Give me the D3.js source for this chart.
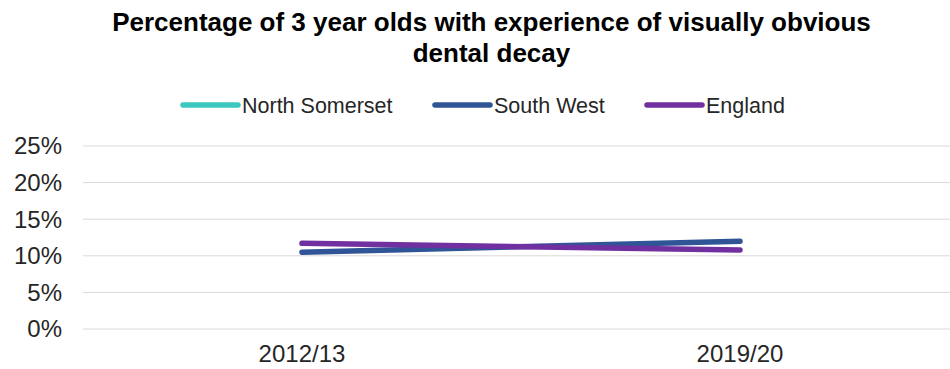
<!DOCTYPE html>
<html>
<head>
<meta charset="utf-8">
<script src="https://cdn.jsdelivr.net/npm/d3@7"></script>
<style>
  html, body { margin: 0; padding: 0; background: #fff; }
  svg { display: block; font-family: 'Liberation Sans', Arial, sans-serif; }
</style>
</head>
<body>
<svg id="chart" width="950" height="369"></svg>
<script>
// Data
const years = ['2012/13', '2019/20'];
const northSomerset = [null, null]; // not visible in the picture
const southWest = [10.5, 12.0];
const england = [11.7, 10.8];
const yTicks = [0, 5, 10, 15, 20, 25];

const series = [
    { name: 'North Somerset', values: northSomerset, color: '#3cc8bf' },
    { name: 'South West', values: southWest, color: '#2f5597' },
    { name: 'England', values: england, color: '#7030a0' }
];

const svg = d3.select('#chart');
const width = 950;

// Title
const title = svg.append('text')
    .attr('text-anchor', 'middle')
    .attr('font-weight', 'bold')
    .attr('font-size', '26px')
    .attr('fill', '#000');
title.append('tspan').attr('x', 491.5).attr('y', 31)
    .text('Percentage of 3 year olds with experience of visually obvious');
title.append('tspan').attr('x', 491.5).attr('y', 62)
    .text('dental decay');

// Scales
const x = d3.scaleBand().domain(years).range([83, 959]);
const y = d3.scaleLinear().domain([0, 25]).range([329, 146]);

// Gridlines
svg.append('g')
    .selectAll('line')
    .data(yTicks)
    .join('line')
    .attr('x1', 83)
    .attr('x2', width)
    .attr('y1', d => y(d))
    .attr('y2', d => y(d))
    .attr('stroke', '#d9d9d9')
    .attr('stroke-width', 1);

// Y axis labels
svg.append('g')
    .selectAll('text')
    .data(yTicks)
    .join('text')
    .attr('x', 62)
    .attr('y', d => y(d))
    .attr('dy', '0.35em')
    .attr('text-anchor', 'end')
    .attr('font-size', '24px')
    .attr('fill', '#262626')
    .text(d => d + '%');

// X axis labels
svg.append('g')
    .selectAll('text')
    .data(years)
    .join('text')
    .attr('x', d => x(d) + x.bandwidth() / 2)
    .attr('y', 362)
    .attr('text-anchor', 'middle')
    .attr('font-size', '24px')
    .attr('fill', '#262626')
    .text(d => d);

// Lines
const line = d3.line()
    .defined(d => d.v != null)
    .x(d => x(d.year) + x.bandwidth() / 2)
    .y(d => y(d.v));

svg.append('g')
    .selectAll('path')
    .data(series)
    .join('path')
    .attr('d', s => line(s.values.map((v, i) => ({ year: years[i], v }))))
    .attr('fill', 'none')
    .attr('stroke', s => s.color)
    .attr('stroke-width', 5.5)
    .attr('stroke-linecap', 'round')
    .attr('stroke-linejoin', 'round');

// Legend
const legendX = [183, 435, 647];
const legend = svg.append('g')
    .selectAll('g')
    .data(series)
    .join('g')
    .attr('transform', (d, i) => `translate(${legendX[i]}, 105)`);

legend.append('line')
    .attr('x1', 0)
    .attr('x2', 55)
    .attr('stroke', d => d.color)
    .attr('stroke-width', 5.5)
    .attr('stroke-linecap', 'round');

legend.append('text')
    .attr('x', 59)
    .attr('dy', '0.35em')
    .attr('font-size', '21.5px')
    .attr('fill', '#262626')
    .text(d => d.name);
</script>
</body>
</html>
